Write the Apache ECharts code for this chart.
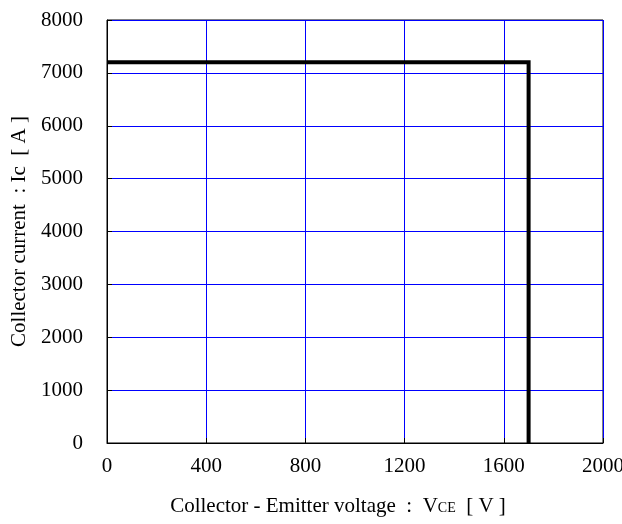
<!DOCTYPE html>
<html><head><meta charset="utf-8">
<script src="https://cdn.jsdelivr.net/npm/echarts@6/dist/echarts.min.js"></script>
<style>html,body{margin:0;padding:0;background:#fff}#c{width:622px;height:524px}</style>
</head><body><div id="c"></div>
<script>
const xTicks = [0, 400, 800, 1200, 1600, 2000];
const yTicks = [0, 1000, 2000, 3000, 4000, 5000, 6000, 7000, 8000];
const vce = [0, 1700, 1700];
const ic = [7200, 7200, 0];

const font = 'Liberation Serif';
const chart = echarts.init(document.getElementById('c'));
chart.setOption({
  animation: false,
  grid: { left: 107, right: 19, top: 20, bottom: 81, show: true, borderColor: '#000', borderWidth: 1, outerBoundsMode: 'none', containLabel: false },
  xAxis: {
    type: 'value', min: xTicks[0], max: xTicks[xTicks.length-1], interval: 400,
    name: '{a|Collector - Emitter voltage  :  V}{b|CE}{a|  [ V ]}',
    nameLocation: 'middle', nameGap: 53,
    nameTextStyle: { padding: [0, 34, 0, 0], rich: { a: { fontFamily: font, fontSize: 21, color: '#000' }, b: { fontFamily: font, fontSize: 14, color: '#000', padding: [4,0,0,0] } } },
    axisLine: { show: true, lineStyle: { color: '#000', width: 1 } },
    axisTick: { show: true, inside: true, length: 5, lineStyle: { color: '#000' } },
    axisLabel: { fontFamily: font, fontSize: 21, color: '#000', margin: 13, formatter: v => String(v) },
    splitLine: { show: true, lineStyle: { color: '#0000ff', width: 1 } }
  },
  yAxis: {
    type: 'value', min: yTicks[0], max: yTicks[yTicks.length-1], interval: 1000,
    name: 'Collector current  : Ic  [ A ]',
    nameLocation: 'middle', nameGap: 76, nameRotate: 90,
    nameTextStyle: { fontFamily: font, fontSize: 21, color: '#000' },
    axisLine: { show: true, lineStyle: { color: '#000', width: 1 } },
    axisTick: { show: true, inside: true, length: 5, lineStyle: { color: '#000' } },
    axisLabel: { fontFamily: font, fontSize: 21, color: '#000', margin: 24, formatter: v => String(v) },
    splitLine: { show: true, lineStyle: { color: '#0000ff', width: 1 } }
  },
  series: [{
    type: 'line', data: vce.map((v, i) => [v, ic[i]]),
    showSymbol: false, symbol: 'none',
    lineStyle: { color: '#000', width: 4, join: 'miter' }
  }]
});
</script></body></html>
